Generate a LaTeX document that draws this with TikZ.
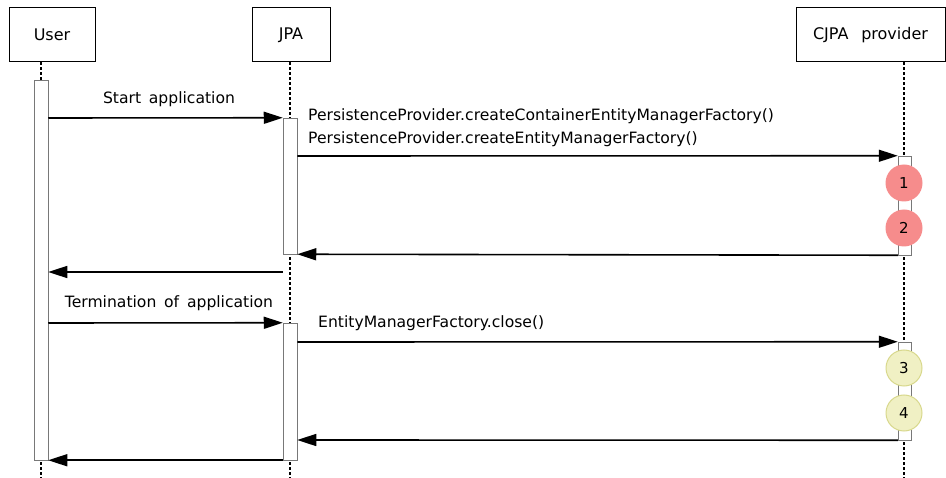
\documentclass[tikz,border=0pt]{standalone}
\usepackage{fontspec}
\setmainfont{DejaVu Sans}
\usetikzlibrary{arrows.meta, positioning}
\definecolor{seqred}{RGB}{246,140,140}
\definecolor{seqyellow}{RGB}{240,240,196}
\definecolor{seqyellowline}{RGB}{216,216,140}
\definecolor{seqgrey}{RGB}{120,120,120}
\newcommand{\wsp}{\hspace{0.5em}}
\tikzset{
    actor/.style={draw, line width=1pt, minimum height=54pt, inner sep=0pt, font=\fontsize{16}{18}\selectfont},
    lifeline/.style={densely dashed, line width=1.1pt},
    actbar/.style={draw=seqgrey, fill=white, line width=0.5pt, minimum width=14pt, inner sep=0pt},
    msg/.style={-{Triangle[length=19pt,width=12pt]}, line width=1.6pt},
    msglabel/.style={font=\fontsize{15.6}{17}\selectfont, inner sep=0pt},
    stepred/.style={circle, fill=seqred, minimum size=37pt, inner sep=0pt, font=\fontsize{15}{16}\selectfont},
    stepyellow/.style={circle, fill=seqyellow, draw=seqyellowline, line width=1pt, minimum size=36pt, inner sep=0pt, font=\fontsize{15}{16}\selectfont}
}
\begin{document}
\begin{tikzpicture}[x=1pt, y=-1pt]
    \useasboundingbox (0,0) rectangle (946,478);

    % ---------------- actors ----------------
    \node[actor, minimum width=86pt] (user) at (52,35) {User};
    \node[actor, minimum width=78pt] (jpa) at (291,35) {JPA};
    \node[actor, minimum width=149pt] (cjpa) at (870.5,35) {CJPA\hspace{0.8em}provider};

    % lifelines
    \draw[lifeline] (user.south -| 41,0) -- (41,478);
    \draw[lifeline] (jpa.south -| 290,0) -- (290,478);
    \draw[lifeline] (cjpa.south -| 904,0) -- (904,478);

    % ---------------- activation bars ----------------
    \node[actbar, minimum height=380pt] (uact) at (41,270) {};
    \node[actbar, minimum height=136pt] (jact1) at (290,186) {};
    \node[actbar, minimum height=137pt] (jact2) at (290,391.5) {};
    \node[actbar, minimum width=13pt, minimum height=99pt] (cact1) at (904.5,205.5) {};
    \node[actbar, minimum width=13pt, minimum height=98pt] (cact2) at (904.5,391) {};

    % ---------------- steps ----------------
    \node[stepred] (s1) at (904,183) {1};
    \node[stepred] (s2) at (904,228) {2};
    \node[stepyellow] (s3) at (904,368) {3};
    \node[stepyellow] (s4) at (904,413) {4};

    % ---------------- start ----------------
    \draw[msg] (uact.east |- 0,118) -- (jact1.north west);
    \node[msglabel] (lstart) at (169,99) {Start\wsp application};

    \draw[msg] (jact1.east |- 0,156) -- (cact1.north west);
    \node[msglabel, anchor=west] (lcreate1) at (308,116) {PersistenceProvider.createContainerEntityManagerFactory()};
    \node[msglabel, anchor=west] (lcreate2) at (308,139) {PersistenceProvider.createEntityManagerFactory()};

    \draw[msg] (cact1.south west) -- (jact1.south east);
    \draw[msg] (jact1.west |- 0,272) -- (uact.east |- 0,272);

    % ---------------- termination ----------------
    \draw[msg] (uact.east |- 0,323) -- (jact2.north west);
    \node[msglabel] (lterm) at (169,303) {Termination\wsp of\wsp application};

    \draw[msg] (jact2.east |- 0,342) -- (cact2.north west);
    \node[msglabel, anchor=west] (lclose) at (318,323) {EntityManagerFactory.close()};

    \draw[msg] (cact2.south west) -- (jact2.east |- 0,440);
    \draw[msg] (jact2.south west) -- (uact.south east);

\end{tikzpicture}
\end{document}
